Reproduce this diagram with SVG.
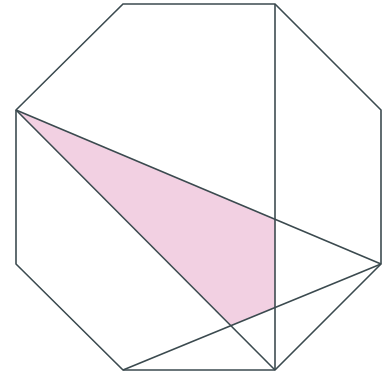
<svg xmlns="http://www.w3.org/2000/svg" width="392" height="378" viewBox="0 0 392 378">
<style>
.ln{fill:none;stroke:#3b4a4f;stroke-width:1.6;stroke-linejoin:miter}
.sh{fill:#f2d0e2;stroke:none}
</style>
<rect width="392" height="378" fill="#ffffff"/>
<polygon class="sh" points="16,110 275,219.3 275,307.5 231.4,325.4"/>
<g id="octagon">
<polygon class="ln" points="123,4 275,4 381,110 381,264 275,370 123,370 16,264 16,110"/>
</g>
<g id="connectors">
<line class="ln" x1="16" y1="110" x2="381" y2="264"/>
<line class="ln" x1="16" y1="110" x2="275" y2="370"/>
<line class="ln" x1="275" y1="4" x2="275" y2="370"/>
<line class="ln" x1="123" y1="370" x2="381" y2="264"/>
</g>
</svg>
